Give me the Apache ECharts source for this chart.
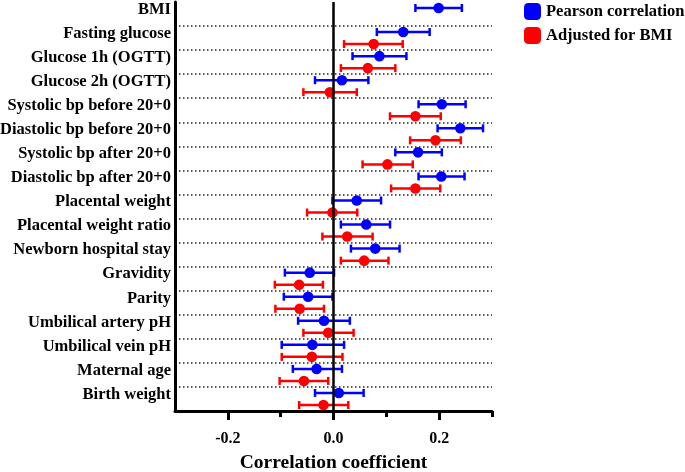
<!DOCTYPE html>
<html>
<head>
<meta charset="utf-8">
<script src="https://cdn.jsdelivr.net/npm/echarts@6/dist/echarts.min.js"></script>
<style>
  html, body { margin: 0; padding: 0; background: #fff; }
  #chart { width: 685px; height: 472px; }
</style>
</head>
<body>
<div id="chart"></div>
<script>
var rows = ['BMI', 'Fasting glucose', 'Glucose 1h (OGTT)', 'Glucose 2h (OGTT)',
    'Systolic bp before 20+0', 'Diastolic bp before 20+0', 'Systolic bp after 20+0',
    'Diastolic bp after 20+0', 'Placental weight', 'Placental weight ratio',
    'Newborn hospital stay', 'Gravidity', 'Parity', 'Umbilical artery pH',
    'Umbilical vein pH', 'Maternal age', 'Birth weight'];

var pearsonR  = [0.199, 0.132, 0.087, 0.016, 0.205, 0.240, 0.160, 0.204, 0.044, 0.062, 0.079, -0.045, -0.048, -0.018, -0.040, -0.032, 0.010];
var pearsonLo = [0.155, 0.082, 0.036, -0.035, 0.161, 0.197, 0.117, 0.161, -0.002, 0.014, 0.033, -0.092, -0.094, -0.067, -0.098, -0.077, -0.035];
var pearsonHi = [0.243, 0.182, 0.138, 0.066, 0.250, 0.283, 0.205, 0.248, 0.090, 0.107, 0.125, 0.001, -0.002, 0.031, 0.020, 0.016, 0.057];

var adjR  = [null, 0.076, 0.065, -0.007, 0.155, 0.193, 0.102, 0.155, -0.002, 0.026, 0.058, -0.065, -0.064, -0.010, -0.041, -0.056, -0.019];
var adjLo = [null, 0.020, 0.014, -0.057, 0.107, 0.145, 0.055, 0.109, -0.050, -0.021, 0.014, -0.111, -0.110, -0.057, -0.098, -0.102, -0.065];
var adjHi = [null, 0.131, 0.117, 0.044, 0.203, 0.241, 0.150, 0.202, 0.045, 0.074, 0.104, -0.020, -0.018, 0.038, 0.017, -0.010, 0.028];

var majorTicks = [-0.2, 0, 0.2];
var minorTicks = [-0.1, 0.1, 0.3];

var font = '"Liberation Serif", "Times New Roman", serif';

function makeData(r, lo, hi) {
    var out = [];
    for (var i = 0; i < rows.length; i++) {
        if (r[i] == null) continue;
        out.push([i, r[i], lo[i], hi[i]]);
    }
    return out;
}

// error bar + dot, blue in the upper half of the row, red in the lower half
function renderItem(params, api) {
    var y = api.value(0);
    var p = api.coord([api.value(1), y]);
    var lo = api.coord([api.value(2), y]);
    var hi = api.coord([api.value(3), y]);
    var band = api.size([0, 1])[1];
    var cy = p[1] + (params.seriesIndex === 0 ? -band / 4 : band / 4);
    var color = api.visual('color');
    var st = { stroke: color, lineWidth: 2.5 };
    var cap = 4;
    return {
        type: 'group',
        children: [
            { type: 'line', shape: { x1: lo[0], y1: cy, x2: hi[0], y2: cy }, style: st },
            { type: 'line', shape: { x1: lo[0], y1: cy - cap, x2: lo[0], y2: cy + cap }, style: st },
            { type: 'line', shape: { x1: hi[0], y1: cy - cap, x2: hi[0], y2: cy + cap }, style: st },
            { type: 'circle', shape: { cx: p[0], cy: cy, r: 5.3 }, style: { fill: color } }
        ]
    };
}

var myChart = echarts.init(document.getElementById('chart'));

var option = {
    animation: false,
    backgroundColor: '#fff',
    grid: { left: 175, right: 193, top: 2, bottom: 61, outerBoundsMode: 'none' },
    legend: {
        orient: 'vertical',
        left: 519, top: -2,
        itemWidth: 17, itemHeight: 17, itemGap: 7,
        icon: 'roundRect',
        textStyle: { fontFamily: font, fontWeight: 'bold', fontSize: 16.5, color: '#000' },
        data: ['Pearson correlation', 'Adjusted for BMI']
    },
    xAxis: [{
        type: 'value',
        min: -0.3, max: 0.3,
        axisLine: { show: true, onZero: false, lineStyle: { color: '#000', width: 3 } },
        axisTick: { show: true, customValues: majorTicks, length: 9, lineStyle: { color: '#000', width: 3 } },
        axisLabel: {
            customValues: majorTicks,
            margin: 20,
            fontFamily: font, fontWeight: 'bold', fontSize: 16, color: '#000',
            formatter: function (v) { return v.toFixed(1); }
        },
        splitLine: { show: false },
        name: 'Correlation coefficient',
        nameLocation: 'middle',
        nameGap: 42,
        nameTextStyle: { fontFamily: font, fontWeight: 'bold', fontSize: 19.5, color: '#000' }
    }, {
        type: 'value',
        min: -0.3, max: 0.3,
        position: 'bottom',
        axisLine: { show: false, onZero: false },
        axisTick: { show: true, customValues: minorTicks, length: 6, lineStyle: { color: '#000', width: 3 } },
        axisLabel: { show: false },
        splitLine: { show: false }
    }],
    yAxis: {
        type: 'category',
        inverse: true,
        data: rows,
        axisLine: { show: true, onZero: false, lineStyle: { color: '#000', width: 3 } },
        axisTick: { show: false },
        axisLabel: {
            margin: 4,
            verticalAlign: 'bottom',
            lineHeight: 9,
            fontFamily: font, fontWeight: 'bold', fontSize: 16.5, color: '#000'
        },
        splitLine: {
            show: true,
            interval: function (idx) { return idx > 0; },
            lineStyle: { color: '#222', width: 1.5, type: [1.5, 2.5] }
        }
    },
    series: [{
        name: 'Pearson correlation',
        type: 'custom',
        renderItem: renderItem,
        itemStyle: { color: '#0000ff' },
        encode: { x: [1, 2, 3], y: 0 },
        data: makeData(pearsonR, pearsonLo, pearsonHi),
        z: 3,
        markLine: {
            silent: true,
            symbol: 'none',
            label: { show: false },
            lineStyle: { color: '#000', width: 2.5, type: 'solid' },
            data: [{ xAxis: 0 }]
        }
    }, {
        name: 'Adjusted for BMI',
        type: 'custom',
        renderItem: renderItem,
        itemStyle: { color: '#ff0000' },
        encode: { x: [1, 2, 3], y: 0 },
        data: makeData(adjR, adjLo, adjHi),
        z: 3
    }]
};

myChart.setOption(option);
</script>
</body>
</html>
